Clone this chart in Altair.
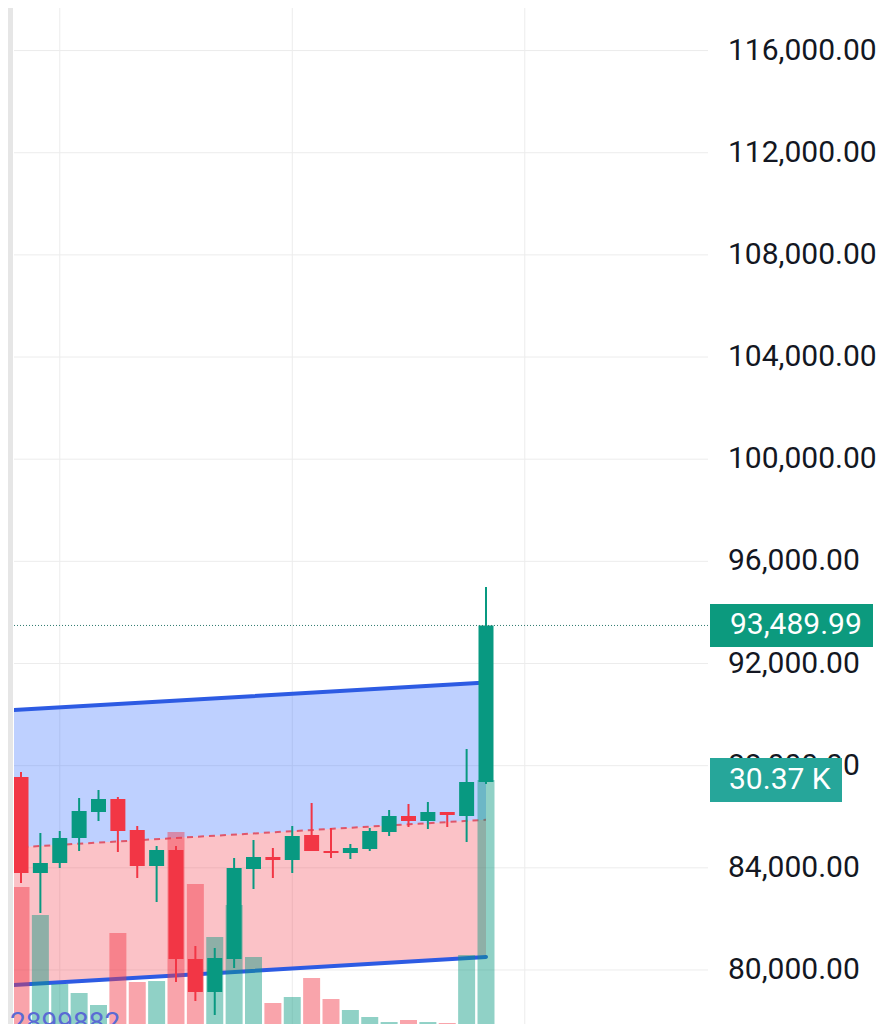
import altair as alt
import pandas as pd

# ---------------- data ----------------
opens  = [87557, 83798, 84189, 85168, 86186, 86695, 85482, 84072, 84698, 80431,
          79139, 80431, 83955, 84424, 84307, 85286, 84659, 84581, 84738, 85403,
          86030, 85834, 86186, 86030, 87361]
highs  = [87752, 85364, 85442, 86734, 87048, 86774, 85638, 84855, 84855, 80940,
          80861, 84385, 85090, 84777, 85638, 86539, 85560, 84933, 85560, 86265,
          86500, 86578, 86186, 88653, 94996]
lows   = [83406, 82232, 83994, 84659, 85834, 84620, 83602, 82662, 79530, 78786,
          78238, 80078, 83171, 83602, 83798, 84659, 84385, 84346, 84659, 85247,
          85599, 85521, 85599, 85012, 87283]
closes = [83798, 84189, 85168, 86225, 86695, 85442, 84072, 84698, 80431, 79139,
          80470, 83994, 84424, 84307, 85247, 84659, 84581, 84777, 85442, 86030,
          85834, 86186, 86069, 87361, 93489.99]
volumes_k = [17.37, 13.97, 5.59, 4.50, 3.04, 11.79, 5.83, 5.95, 24.06, 17.74,
             11.30, 15.19, 8.87, 3.28, 4.01, 6.32, 3.77, 2.43, 1.58, 0.97,
             1.22, 0.97, 0.85, 9.11, 30.37]

chan_idx   = [-0.5, 24]
chan_upper = [90171, 91256]
chan_mid   = [84788, 85882]
chan_lower = [79405, 80509]

last_price = 93489.99
last_volume_k = 30.37
price_ticks = [80000, 84000, 88000, 92000, 96000, 100000, 104000, 108000, 112000, 116000]
time_grid = [2, 14, 26]
indicator_text = "2899882"

# ---------------- layout ----------------
W, H = 694, 1030
X_DOM = [-0.3613, 35.458]
P_DOM = [77337, 117666]
V_DOM = [-0.97, 124.15]

UP, DOWN = "#089981", "#F23645"
GRID = "#ececec"
FS = 30

n = len(opens)
candles = pd.DataFrame({
    "i": list(range(n)), "open": opens, "high": highs, "low": lows,
    "close": closes, "vol": volumes_k,
    "dir": ["up" if c >= o else "down" for o, c in zip(opens, closes)],
})
channel = pd.DataFrame({"i": chan_idx, "upper": chan_upper, "mid": chan_mid, "lower": chan_lower})
ticks = pd.DataFrame({"p": price_ticks, "label": [f"{v:,.2f}" for v in price_ticks]})
tgrid = pd.DataFrame({"i": time_grid})
last_p = pd.DataFrame({"p": [last_price], "label": [f"{last_price:,.2f}"]})
last_v = pd.DataFrame({"v": [last_volume_k], "label": [f"{last_volume_k:.2f} K"]})
one = pd.DataFrame({"a": [0]})

xs = alt.Scale(domain=X_DOM, nice=False, zero=False, padding=0)
ps = alt.Scale(domain=P_DOM, nice=False, zero=False, padding=0)
vs = alt.Scale(domain=V_DOM, nice=False, zero=False, padding=0)
color = alt.Color("dir:N", scale=alt.Scale(domain=["up", "down"], range=[UP, DOWN]), legend=None)

X = alt.X("i:Q", scale=xs, axis=None)

def PY(f):
    return alt.Y(f, type="quantitative", scale=ps, axis=None)

# ---- background group (price scale): strip, grid, labels, fills, channel lines
strip = alt.Chart(one).mark_rect(color="#e6e6e6", clip=False).encode(
    x=alt.value(-6), x2=alt.value(-1), y=alt.value(0), y2=alt.value(H))
hgrid = alt.Chart(ticks).mark_rule(color=GRID, strokeWidth=1, clip=False).encode(
    y=PY("p"), x=alt.value(0), x2=alt.value(W))
vgrid = alt.Chart(tgrid).mark_rule(color=GRID, strokeWidth=1, clip=False).encode(
    x=X, y=alt.value(0), y2=alt.value(H))
labels = alt.Chart(ticks).mark_text(align="left", baseline="middle", font="Roboto", fontSize=FS,
                                    color="#131722", clip=False).encode(
    x=alt.value(714), y=PY("p"), text="label:N")

blue_fill = alt.Chart(channel).mark_area(color="#2962ff", opacity=0.3, clip=True).encode(
    x=X, y=PY("upper"), y2="mid:Q")
pink_fill = alt.Chart(channel).mark_area(color="#f23645", opacity=0.3, clip=True).encode(
    x=X, y=PY("mid"), y2="lower:Q")
upper_line = alt.Chart(channel).mark_line(color="#2d5be3", strokeWidth=4, strokeCap="round", clip=True).encode(
    x=X, y=PY("upper"))
lower_line = alt.Chart(channel).mark_line(color="#2d5be3", strokeWidth=4, strokeCap="round", clip=True).encode(
    x=X, y=PY("lower"))
mid_line = alt.Chart(channel).mark_line(color="#e0566a", strokeWidth=2, strokeDash=[6, 5], clip=True).encode(
    x=X, y=PY("mid"))

bg = alt.layer(strip, hgrid, vgrid, labels, blue_fill, pink_fill, upper_line, lower_line, mid_line)

# ---- volume group (own scale)
vol_bars = alt.Chart(candles).mark_bar(width=17, opacity=0.45, clip=True).encode(
    x=X, y=alt.Y("vol:Q", scale=vs, axis=None), y2=alt.datum(0), color=color)
vol_box = alt.Chart(last_v).mark_rule(color="#26a69a", strokeWidth=44, strokeCap="butt", clip=False).encode(
    x=alt.value(696), x2=alt.value(828), y=alt.Y("v:Q", scale=vs, axis=None))
vol_txt = alt.Chart(last_v).mark_text(align="left", baseline="middle", font="Roboto", fontSize=FS,
                                      color="white", clip=False).encode(
    x=alt.value(715), y=alt.Y("v:Q", scale=vs, axis=None), text="label:N")
vol = alt.layer(vol_bars, vol_box, vol_txt)

# ---- foreground group (price scale): candles, last-price line and label
wicks = alt.Chart(candles).mark_rule(strokeWidth=2, clip=True).encode(
    x=X, y=PY("low"), y2="high:Q", color=color)
bodies = alt.Chart(candles).mark_bar(width=15, clip=True).encode(
    x=X, y=PY("open"), y2="close:Q", color=color)
price_line = alt.Chart(last_p).mark_rule(color="#2f7a6e", strokeWidth=1, strokeDash=[1, 2], clip=False).encode(
    x=alt.value(0), x2=alt.value(W), y=PY("p"))
price_box = alt.Chart(last_p).mark_rule(color="#0c9a7e", strokeWidth=43, strokeCap="butt", clip=False).encode(
    x=alt.value(696), x2=alt.value(859), y=PY("p"))
price_txt = alt.Chart(last_p).mark_text(align="left", baseline="middle", font="Roboto", fontSize=FS,
                                        color="white", clip=False).encode(
    x=alt.value(716), y=PY("p"), text="label:N")
ind_txt = alt.Chart(one).mark_text(align="left", baseline="alphabetic", font="Roboto", fontSize=28,
                                   color="#5a6ad4", clip=False).encode(
    x=alt.value(-4), y=alt.value(1024), text=alt.value(indicator_text))
fg = alt.layer(wicks, bodies, price_line, price_box, price_txt, ind_txt)

chart = alt.layer(bg, vol, fg).resolve_scale(y="independent").properties(
    width=W, height=H,
    autosize=alt.AutoSizeParams(type="none"),
    padding={"left": 6, "top": 0, "right": 174, "bottom": 0},
    background="white",
).configure_view(stroke=None)

chart.save("out.html", embed_options={"renderer": "svg", "actions": False})
